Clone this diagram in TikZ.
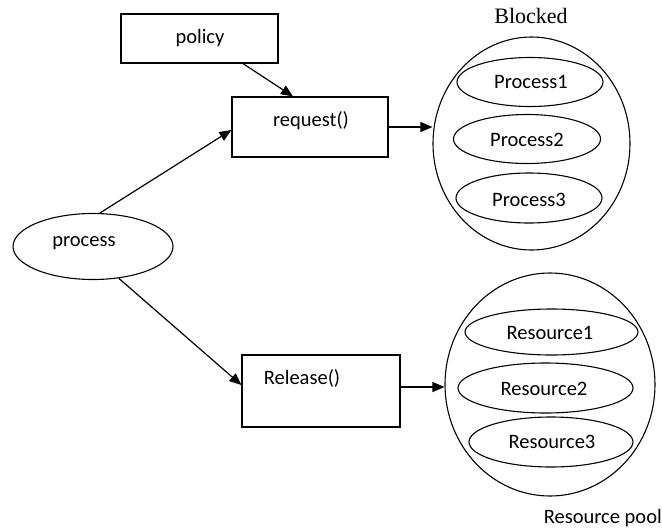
\documentclass[tikz,border=0pt]{standalone}
\usepackage{fontspec}
\setmainfont{Carlito}
\newfontfamily\serifB{Liberation Serif}
\usetikzlibrary{shapes.geometric,arrows.meta}
\tikzset{
  box/.style={draw, line width=1.2pt, rectangle, inner sep=0pt},
  oval/.style={draw, line width=1.1pt, ellipse, inner sep=0pt},
  lbl/.style={inner sep=0pt, font=\fontsize{20.5}{24}\selectfont},
  conn/.style={line width=1.2pt, -{Triangle[length=12pt,width=10pt]}},
}
\begin{document}
\begin{tikzpicture}[x=1pt,y=-1pt]
\useasboundingbox (0,0) rectangle (662,531);

% left-hand side: caller, policy and the two operations
\node[box, minimum width=157pt, minimum height=49pt] (policy) at (199.5,38.5) {};
\node[lbl] (policyT) at (200,38) {policy};

\node[box, minimum width=156pt, minimum height=60pt] (request) at (310,127) {};
\node[lbl] (requestT) at (311,121) {request()};

\node[oval, minimum width=160pt, minimum height=66pt] (process) at (93,246.5) {};
\node[lbl] (processT) at (84,243) {process};

\node[box, minimum width=158pt, minimum height=72pt] (release) at (321,391) {};
\node[lbl] (releaseT) at (302,378) {Release()};

% blocked queue
\node[oval, minimum width=197pt, minimum height=213pt] (blocked) at (531.5,143.5) {};
\node[inner sep=0pt, font=\serifB\fontsize{22}{26}\selectfont] (blockedT) at (531,16) {Blocked};
\node[oval, minimum width=146pt, minimum height=49pt] (p1) at (530,82) {};
\node[lbl] (p1T) at (531,82) {Process1};
\node[oval, minimum width=147pt, minimum height=49pt] (p2) at (527,139) {};
\node[lbl] (p2T) at (527,140) {Process2};
\node[oval, minimum width=146pt, minimum height=50pt] (p3) at (529,198) {};
\node[lbl] (p3T) at (529,200) {Process3};

% resource pool
\node[oval, minimum width=210pt, minimum height=223pt] (pool) at (550,384.5) {};
\node[oval, minimum width=173pt, minimum height=46pt] (r1) at (551.5,332) {};
\node[lbl] (r1T) at (550,333) {Resource1};
\node[oval, minimum width=175pt, minimum height=50pt] (r2) at (545.5,388) {};
\node[lbl] (r2T) at (544,389) {Resource2};
\node[oval, minimum width=164pt, minimum height=50pt] (r3) at (551,442) {};
\node[lbl] (r3T) at (552,442) {Resource3};
\node[lbl, anchor=east] (poolT) at (662,518) {Resource pool};

% connectors
\draw[conn] ([xshift=43.5pt]policy.south) -- ([xshift=-17pt]request.north);
\draw[conn] ([xshift=7pt]process.north) -- ([yshift=-3pt]request.west);
\draw[conn] (request.east) -- (request.east -| blocked.west);
\draw[conn] (process.-51) -- ([yshift=6pt]release.west);
\draw[conn] ([yshift=4pt]release.east) -- ([yshift=4pt]release.east -| pool.west);
\end{tikzpicture}
\end{document}
